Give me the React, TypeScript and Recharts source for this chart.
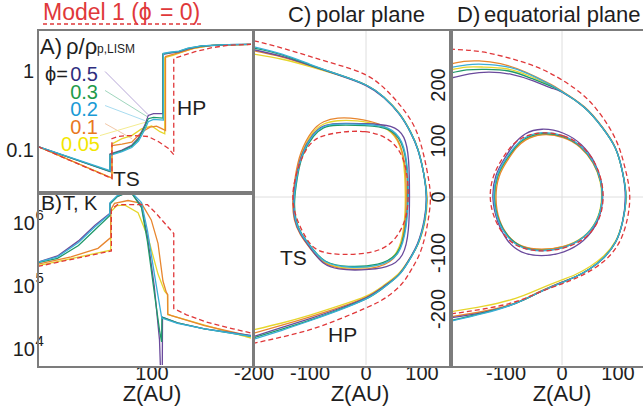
import { LineChart, Line, XAxis, YAxis, ReferenceLine } from "recharts";

type Pt = [number, number];

const FONT = '"Liberation Sans", Arial, sans-serif';
const TEXT = "#1e1e1e";
const FRAME = "#7c7c7c";
const GRID = "#dedede";
const RED = "#e0383a";

// phi = 0.5, 0.3, 0.2, 0.1, 0.05
const PHI_LABELS = ["0.5", "0.3", "0.2", "0.1", "0.05"];
const LINE_COLORS = ["#6a4a9c", "#1f9a6a", "#3aaed8", "#e8862e", "#e6d62c"];
const LABEL_COLORS = ["#2e2d7e", "#1e9a4a", "#1a9ad6", "#e8781e", "#f2e600"];
const LEADER_COLORS = ["#b8a8d8", "#9fd6bd", "#a8dcf0", "#f2c8a8", "#f4ec90"];
const DRAW_ORDER = [4, 3, 0, 1, 2];

// A) density along the upwind axis, (Z AU, rho / rho_p,LISM)
const rhoA05: Pt[] = [[24, 0.109], [72, 0.0525], [72, 0.088], [80, 0.098], [86.5, 0.113], [91, 0.14], [95.3, 0.205], [97.5, 0.27], [101, 0.285], [107.3, 0.285], [107.3, 1.6], [112, 1.66], [118, 1.72], [124, 1.88], [133, 2.03], [150, 2.12], [166, 2.14]];
const rhoA03: Pt[] = [[24, 0.109], [72, 0.053], [72, 0.086], [80, 0.096], [86.5, 0.11], [91, 0.135], [95.3, 0.195], [97.5, 0.245], [101, 0.255], [107.3, 0.25], [107.3, 1.62], [112, 1.68], [118, 1.74], [124, 1.9], [133, 2.04], [150, 2.12], [166, 2.14]];
const rhoA02: Pt[] = [[24, 0.109], [72, 0.054], [72, 0.084], [80, 0.094], [86.5, 0.106], [91, 0.128], [95.3, 0.18], [97.5, 0.225], [101, 0.24], [107.6, 0.235], [107.6, 1.65], [112, 1.7], [118, 1.76], [124, 1.92], [133, 2.05], [150, 2.12], [166, 2.14]];
const rhoA01: Pt[] = [[24, 0.109], [73.3, 0.0435], [73.3, 0.112], [80, 0.117], [86.5, 0.124], [93, 0.165], [98.7, 0.192], [103, 0.198], [106.5, 0.184], [109, 0.174], [109, 1.5], [114, 1.6], [120, 1.72], [128, 1.92], [140, 2.08], [166, 2.14]];
const rhoA005: Pt[] = [[24, 0.109], [73.3, 0.0435], [73.3, 0.118], [80, 0.137], [86.5, 0.15], [93, 0.182], [99.8, 0.198], [105.3, 0.168], [108.5, 0.158], [108.5, 1.45], [114, 1.55], [120, 1.7], [128, 1.9], [140, 2.08], [166, 2.14]];
const rhoA0: Pt[] = [[24, 0.109], [73.3, 0.0428], [73.3, 0.137], [77.3, 0.146], [83.3, 0.15], [91, 0.149], [97.5, 0.146], [104.2, 0.126], [111, 0.103], [114.5, 0.086], [114.5, 1.42], [120, 1.53], [128.7, 1.73], [140, 1.94], [151, 2.09], [166, 2.14]];

// leader lines from the phi labels to the curves, (Z, rho) start and end
const leaderStart: Pt[] = [[68.7, 0.97], [68.7, 0.558], [68.7, 0.36], [68.7, 0.213], [65.3, 0.15]];
const leaderEnd: Pt[] = [[97.3, 0.277], [96.7, 0.261], [95.3, 0.232], [86.7, 0.137], [97.3, 0.226]];

// B) temperature along the upwind axis, (Z AU, T K)
const tB05: Pt[] = [[24, 2.4e5], [37, 3.0e5], [51, 5.2e5], [62, 9.2e5], [71.8, 1.42e6], [72, 2.05e6], [77, 2.65e6], [82, 2.95e6], [87, 2.85e6], [93, 1.85e6], [97, 6e5], [101.5, 1e5], [105, 1.4e4], [106.2, 2000], [106.8, 2000], [107, 3.2e4], [117, 2.6e4], [135, 2.1e4], [166, 1.65e4]];
const tB03: Pt[] = [[24, 2.35e5], [37, 2.75e5], [51, 4.4e5], [62, 7.8e5], [71.8, 1.3e6], [72, 2.0e6], [77, 2.65e6], [82, 2.95e6], [87, 2.85e6], [93, 1.75e6], [97, 5e5], [101.5, 8e4], [105, 2e4], [106.4, 1.3e4], [106.6, 3.2e4], [117, 2.6e4], [135, 2.1e4], [166, 1.6e4]];
const tB02: Pt[] = [[24, 2.4e5], [37, 2.9e5], [51, 4.9e5], [62, 8.7e5], [71.8, 1.38e6], [72, 2.1e6], [77, 2.75e6], [82, 3.0e6], [87, 2.95e6], [93, 2.1e6], [97, 7.5e5], [101.5, 1.6e5], [104, 7e4], [106.5, 3.1e4], [117, 2.55e4], [135, 2.1e4], [166, 1.6e4]];
const tB01: Pt[] = [[24, 2.23e5], [46, 2.9e5], [64, 3.96e5], [71.8, 5.7e5], [72.5, 5.8e5], [72.5, 1.62e6], [75, 2.05e6], [84, 2.27e6], [93, 2.05e6], [99.5, 1.12e6], [104, 4.75e5], [107.3, 1.2e5], [109.5, 8e4], [110.5, 7.3e4], [110.5, 3.6e4], [113, 3.4e4], [135, 2.35e4], [166, 1.6e4]];
const tB005: Pt[] = [[24, 2.1e5], [72.5, 3.7e5], [72.5, 1.5e6], [76.5, 1.88e6], [82, 1.92e6], [90.7, 1.45e6], [97.3, 6e5], [104, 1.55e5], [108.4, 8.3e4], [110.3, 7.3e4], [110.5, 3.5e4], [113, 3.4e4], [135, 2.4e4], [166, 1.5e4]];
const tB0: Pt[] = [[24, 2.05e5], [72.9, 3.6e5], [72.9, 1.65e6], [77, 1.95e6], [97, 1.95e6], [103, 1.4e6], [114.5, 6.8e5], [114.5, 4.4e4], [123, 3.5e4], [136, 2.7e4], [154, 2.1e4], [166, 1.8e4]];

// C) polar plane, (Z AU, Y AU)
const hpC05: Pt[] = [[-200, 263], [-150, 251], [-100, 235], [-50, 218], [0, 199], [32, 177], [60, 147], [80, 114], [93, 83], [103, 42], [107.5, 0], [104, -40], [92, -83], [75, -115], [58, -139], [30, -161], [0, -180], [-50, -200], [-100, -217], [-150, -233], [-200, -249]];
const hpC03: Pt[] = [[-200, 266], [-150, 254], [-100, 236], [-50, 219], [0, 200], [32, 178], [60, 148], [80, 115], [93, 84], [103, 42], [108, 0], [105, -40], [93, -83], [76, -115], [58, -140], [30, -163], [0, -182], [-50, -202], [-100, -220], [-150, -236], [-200, -251]];
const hpC02: Pt[] = [[-200, 268], [-150, 255], [-100, 237], [-50, 219], [0, 200], [32, 178], [60, 148], [80, 115], [93, 84], [103, 42], [108, 0], [105, -40], [93, -83], [76, -115], [58, -140], [30, -163], [0, -182], [-50, -203], [-100, -221], [-150, -238], [-200, -254]];
const hpC01: Pt[] = [[-200, 261], [-150, 250], [-100, 235], [-50, 219], [0, 200], [32, 178], [60, 148], [80, 115], [93, 84], [103, 42], [108.5, 0], [105, -40], [93, -83], [76, -114], [58, -139], [30, -161], [0, -179], [-50, -198], [-100, -214], [-150, -229], [-200, -243]];
const hpC005: Pt[] = [[-200, 255], [-150, 246], [-100, 233], [-50, 218], [0, 200], [32, 178], [60, 149], [80, 116], [93, 85], [103, 43], [109, 0], [106, -40], [94, -82], [76, -113], [58, -137], [30, -159], [0, -177], [-50, -195], [-100, -211], [-150, -225], [-200, -237]];
const hpC0: Pt[] = [[-200, 279], [-150, 266], [-100, 251], [-50, 236], [0, 218], [35, 192], [64, 160], [88, 122], [103, 75], [112, 30], [115, 0], [112, -35], [100, -90], [82, -128], [64, -155], [35, -180], [0, -198], [-50, -219], [-100, -237], [-150, -250], [-200, -261]];

const tsC05: Pt[] = [[-58, 132], [1, 131], [48, 129], [70, 110], [77, 70], [78, 0], [77, -60], [68, -108], [40, -127], [-10, -131], [-50, -130], [-78, -120], [-95, -97], [-119, -65], [-128, -41], [-131, -11], [-125, 36], [-116, 78], [-95, 114], [-77, 128]];
const tsC03: Pt[] = [[-58, 129], [1, 128], [42, 124], [65, 100], [74, 54], [75, 0], [72, -53], [60, -104], [25, -122], [-34, -126], [-76, -117], [-94, -94], [-117, -65], [-126, -41], [-129, -11], [-123, 36], [-114, 78], [-93, 112], [-76, 125]];
const tsC02: Pt[] = [[-58, 131], [1, 130], [43, 126], [66, 102], [75, 54], [76, 0], [73, -53], [61, -106], [25, -124], [-34, -127], [-76, -118], [-94, -95], [-118, -65], [-127, -41], [-130, -11], [-124, 36], [-115, 78], [-94, 114], [-76, 127]];
const tsC01: Pt[] = [[-52, 142], [-17, 141], [25, 132], [55, 112], [70, 70], [73, 0], [70, -53], [60, -106], [25, -128], [-34, -131], [-76, -121], [-96, -97], [-120, -65], [-129, -41], [-132, -11], [-127, 36], [-118, 80], [-97, 120], [-76, 136]];
const tsC005: Pt[] = [[-52, 137], [-17, 137], [25, 130], [52, 112], [68, 76], [71, 0], [69, -53], [58, -104], [25, -124], [-34, -129], [-76, -120], [-95, -97], [-119, -65], [-128, -41], [-131, -11], [-125, 36], [-116, 80], [-96, 117], [-76, 132]];
const tsC0: Pt[] = [[-64, 114], [1, 121], [49, 102], [70, 65], [76, 20], [75, -20], [69, -47], [49, -83], [13, -101], [-46, -104], [-88, -98], [-106, -77], [-124, -41], [-133, -5], [-127, 36], [-112, 78], [-94, 104]];

// D) equatorial plane, (Z AU, Y AU)
const hpD05: Pt[] = [[-200, 212], [-165, 220], [-130, 223], [-90, 219], [-50, 207], [-20, 195], [0, 187], [40, 160], [72, 124], [95, 88], [108, 45], [113, 0], [108, -45], [96, -80], [75, -108], [50, -128], [25, -142], [0, -152], [-40, -170], [-83, -190], [-140, -206], [-200, -216]];
const hpD03: Pt[] = [[-200, 221], [-170, 227], [-135, 228], [-95, 225], [-55, 212], [-20, 198], [0, 188], [40, 160], [72, 124], [95, 88], [108, 45], [114, 0], [108, -45], [96, -80], [75, -108], [50, -128], [25, -142], [0, -153], [-40, -170], [-83, -190], [-140, -207], [-200, -221]];
const hpD02: Pt[] = [[-200, 231], [-170, 236], [-140, 237], [-100, 233], [-60, 220], [-20, 200], [0, 188], [40, 160], [72, 124], [95, 88], [108, 45], [114, 0], [108, -45], [96, -80], [75, -108], [50, -128], [25, -142], [0, -153], [-40, -170], [-83, -190], [-140, -208], [-200, -222]];
const hpD01: Pt[] = [[-200, 237], [-175, 242], [-148, 243], [-110, 238], [-65, 223], [-20, 201], [0, 189], [40, 161], [72, 125], [95, 89], [108, 45], [114, 0], [108, -45], [96, -80], [75, -108], [50, -128], [25, -142], [0, -152], [-40, -169], [-83, -189], [-140, -204], [-200, -214]];
const hpD005: Pt[] = [[-200, 227], [-170, 232], [-140, 232], [-100, 229], [-60, 217], [-20, 199], [0, 188], [40, 160], [72, 124], [95, 88], [108, 45], [114.5, 0], [108, -44], [96, -78], [75, -105], [50, -124], [25, -138], [0, -148], [-40, -164], [-83, -181], [-140, -195], [-200, -205]];
const hpD0: Pt[] = [[-200, 264], [-142, 259], [-83, 245], [-40, 230], [0, 209], [40, 180], [72, 143], [98, 98], [113, 50], [121, 0], [114, -50], [100, -85], [78, -112], [50, -132], [25, -145], [0, -155], [-40, -170], [-83, -187], [-140, -200], [-200, -209]];

const tsD05: Pt[] = [[-37, 124], [4, 116], [36, 95], [59, 64], [72, 27], [74, -8], [65, -46], [40, -80], [4, -100], [-37, -107], [-75, -100], [-98, -80], [-116, -46], [-126, -2], [-120, 40], [-102, 70], [-86, 95], [-68, 114]];
const tsD03: Pt[] = [[-37, 116], [4, 110], [34, 92], [58, 62], [71, 27], [73, -8], [64, -44], [40, -74], [4, -92], [-37, -97], [-73, -91], [-97, -72], [-114, -44], [-123, -2], [-117, 39], [-99, 68], [-84, 89], [-70, 104]];
const tsD02: Pt[] = [[-37, 118], [4, 111], [34, 93], [58, 63], [71, 27], [73, -8], [64, -44], [40, -74], [4, -92], [-37, -98], [-73, -92], [-97, -74], [-115, -44], [-124, -2], [-118, 39], [-100, 69], [-85, 90], [-70, 106]];
const tsD01: Pt[] = [[-37, 114], [4, 108], [33, 91], [57, 62], [71, 27], [73, -8], [64, -45], [40, -74], [4, -90], [-37, -95], [-73, -90], [-96, -72], [-113, -44], [-120, -2], [-114, 39], [-97, 66], [-82, 88], [-68, 102]];
const tsD005: Pt[] = [[-37, 115], [4, 109], [34, 92], [57, 62], [70, 27], [72, -8], [63, -44], [40, -73], [4, -90], [-37, -96], [-73, -90], [-97, -72], [-115, -44], [-122, -2], [-116, 39], [-98, 67], [-83, 89], [-69, 103]];
const tsD0: Pt[] = [[-37, 117], [4, 111], [35, 94], [59, 64], [72, 28], [75, -8], [66, -46], [42, -76], [4, -93], [-37, -98], [-75, -92], [-100, -74], [-120, -44], [-131, -2], [-124, 39], [-106, 70], [-90, 93], [-70, 108]];

const LEFT_Z_TICKS = [100];
const RHO_TICKS = [0.1, 1];
const TEMP_TICKS = [1e4, 1e5, 1e6];
const C_Z_TICKS = [-200, -100, 0, 100];
const D_Z_TICKS = [-100, 0, 100];
const PLANE_Y_TICKS = [-200, -100, 0, 100, 200];

const toRows = (pts: Pt[]) => pts.map(([z, v]) => ({ z, v }));

function curveLines(prefix: string, sets: Pt[][], dashed: Pt[], type: any) {
  const out = DRAW_ORDER.map((i) => (
    <Line
      key={`${prefix}-${i}`}
      data={toRows(sets[i])}
      dataKey="v"
      type={type}
      stroke={LINE_COLORS[i]}
      strokeWidth={1.3}
      dot={false}
      activeDot={false}
      isAnimationActive={false}
    />
  ));
  out.push(
    <Line
      key={`${prefix}-dash`}
      data={toRows(dashed)}
      dataKey="v"
      type={type}
      stroke={RED}
      strokeWidth={1.3}
      strokeDasharray="5 3"
      dot={false}
      activeDot={false}
      isAnimationActive={false}
    />
  );
  return out;
}

function PowTick(props: any) {
  const { x, y, payload } = props;
  const exp = Math.round(Math.log10(payload.value));
  return (
    <g fontFamily={FONT} fill={TEXT}>
      <text x={x - 3} y={y + 7} textAnchor="end" fontSize={20}>10</text>
      <text x={x - 2.5} y={y - 3} textAnchor="start" fontSize={15}>{exp}</text>
    </g>
  );
}

function RotTick(props: any) {
  const { x, y, payload } = props;
  return (
    <text
      transform={`translate(${x},${y}) rotate(-90)`}
      textAnchor="middle"
      fontSize={20}
      fill={TEXT}
      fontFamily={FONT}
    >
      {payload.value}
    </text>
  );
}

const tickStyle = { fontSize: 20, fill: TEXT, fontFamily: FONT };

function Frame({ x, y, w, h }: { x: number; y: number; w: number; h: number }) {
  return (
    <div
      style={{
        position: "absolute",
        left: x - 1,
        top: y - 1,
        width: w,
        height: h,
        border: `2px solid ${FRAME}`,
        boxSizing: "content-box",
        pointerEvents: "none",
      }}
    />
  );
}

function PlaneChart({ left, width, marginLeft, yAxisWidth, ticks, hp, hpDash, ts, tsDash, name }: any) {
  return (
    <div style={{ position: "absolute", left, top: 0 }}>
      <LineChart width={width} height={412} margin={{ top: 29, right: 0, bottom: 0, left: marginLeft }}>
        <XAxis
          type="number"
          dataKey="z"
          domain={[-200, 150]}
          ticks={ticks}
          interval={0}
          allowDataOverflow
          height={47}
          tick={tickStyle}
          tickSize={0}
          tickMargin={1}
          axisLine={false}
          tickLine={false}
        />
        {yAxisWidth ? (
          <YAxis
            type="number"
            domain={[-300, 300]}
            ticks={PLANE_Y_TICKS}
            interval={0}
            allowDataOverflow
            width={yAxisWidth}
            tick={<RotTick />}
            tickSize={0}
            tickMargin={5}
            axisLine={false}
            tickLine={false}
          />
        ) : (
          <YAxis type="number" domain={[-300, 300]} allowDataOverflow hide />
        )}
        <ReferenceLine x={0} stroke={GRID} strokeWidth={1} />
        <ReferenceLine y={0} stroke={GRID} strokeWidth={1} />
        {curveLines(`${name}-hp`, hp, hpDash, "natural")}
        {curveLines(`${name}-ts`, ts, tsDash, "basisClosed")}
      </LineChart>
    </div>
  );
}

export default function App() {
  return (
    <div
      style={{
        position: "absolute",
        left: 0,
        top: 0,
        width: 643,
        height: 412,
        overflow: "hidden",
        background: "#ffffff",
        fontFamily: FONT,
      }}
    >
      {/* A: density */}
      <div style={{ position: "absolute", left: 0, top: 0 }}>
        <LineChart width={253} height={192} margin={{ top: 30, right: 2, bottom: 0, left: 0 }}>
          <XAxis type="number" dataKey="z" domain={[24, 166]} allowDataOverflow hide />
          <YAxis
            type="number"
            scale="log"
            domain={[0.029, 3.25]}
            ticks={RHO_TICKS}
            interval={0}
            allowDataOverflow
            width={38}
            tick={tickStyle}
            tickSize={0}
            tickMargin={4}
            axisLine={false}
            tickLine={false}
            tickFormatter={(v: number) => String(v)}
          />
          {leaderStart.map((s, i) => (
            <ReferenceLine
              key={`lead-${i}`}
              segment={[
                { x: s[0], y: s[1] },
                { x: leaderEnd[i][0], y: leaderEnd[i][1] },
              ]}
              stroke={LEADER_COLORS[i]}
              strokeWidth={1}
            />
          ))}
          {curveLines("rho", [rhoA05, rhoA03, rhoA02, rhoA01, rhoA005], rhoA0, "linear")}
        </LineChart>
      </div>

      {/* B: temperature */}
      <div style={{ position: "absolute", left: 0, top: 192 }}>
        <LineChart width={253} height={220} margin={{ top: 0, right: 2, bottom: 0, left: 0 }}>
          <XAxis
            type="number"
            dataKey="z"
            domain={[24, 166]}
            ticks={LEFT_Z_TICKS}
            interval={0}
            allowDataOverflow
            height={47}
            tick={tickStyle}
            tickSize={0}
            tickMargin={1}
            axisLine={false}
            tickLine={false}
          />
          <YAxis
            type="number"
            scale="log"
            domain={[5600, 3.1e6]}
            ticks={TEMP_TICKS}
            interval={0}
            allowDataOverflow
            width={38}
            tick={<PowTick />}
            tickSize={0}
            tickMargin={0}
            axisLine={false}
            tickLine={false}
          />
          {curveLines("temp", [tB05, tB03, tB02, tB01, tB005], tB0, "linear")}
        </LineChart>
      </div>

      <PlaneChart
        name="c"
        left={220}
        width={230}
        marginLeft={34}
        yAxisWidth={0}
        ticks={C_Z_TICKS}
        hp={[hpC05, hpC03, hpC02, hpC01, hpC005]}
        hpDash={hpC0}
        ts={[tsC05, tsC03, tsC02, tsC01, tsC005]}
        tsDash={tsC0}
      />
      <PlaneChart
        name="d"
        left={400}
        width={246}
        marginLeft={0}
        yAxisWidth={50}
        ticks={D_Z_TICKS}
        hp={[hpD05, hpD03, hpD02, hpD01, hpD005]}
        hpDash={hpD0}
        ts={[tsD05, tsD03, tsD02, tsD01, tsD005]}
        tsDash={tsD0}
      />

      <Frame x={38} y={30} w={213} h={162} />
      <Frame x={38} y={192} w={213} h={173} />
      <Frame x={254} y={30} w={196} h={335} />
      <Frame x={450} y={30} w={196} h={335} />

      <svg
        width={643}
        height={412}
        style={{ position: "absolute", left: 0, top: 0, pointerEvents: "none" }}
        fontFamily={FONT}
      >
        <text x={43} y={20} fontSize={23} fill={RED}>Model 1 (ϕ</text>
        <text x={160} y={20} fontSize={23} fill={RED}>= 0)</text>
        <line x1={43} y1={24} x2={203} y2={24} stroke={RED} strokeWidth={1.3} strokeDasharray="4 3" />

        <text x={40} y={54} fontSize={22} fill={TEXT}>A)</text>
        <text x={66} y={54} fontSize={22} fill={TEXT}>ρ/ρ</text>
        <text x={97} y={53} fontSize={12} fill={TEXT}>p,LISM</text>

        <text x={68} y={81} fontSize={20} fill={TEXT} textAnchor="end">ϕ=</text>
        {PHI_LABELS.map((label, i) => (
          <text
            key={label}
            x={i === 4 ? 100 : 98}
            y={81 + [0, 18, 35, 53, 70][i]}
            fontSize={20}
            fill={LABEL_COLORS[i]}
            textAnchor="end"
          >
            {label}
          </text>
        ))}
        <text x={113} y={186} fontSize={21} fill={TEXT}>TS</text>
        <text x={177} y={115} fontSize={21} fill={TEXT}>HP</text>

        <text x={41} y={210} fontSize={21} fill={TEXT}>B)</text>
        <text x={63} y={210} fontSize={20} fill={TEXT}>T, K</text>

        <text x={288} y={22} fontSize={22} fill={TEXT}>C)</text>
        <text x={316} y={22} fontSize={22} fill={TEXT}>polar plane</text>
        <text x={457} y={22} fontSize={22} fill={TEXT}>D)</text>
        <text x={484} y={22} fontSize={22} fill={TEXT}>equatorial plane</text>

        <text x={280} y={265} fontSize={21} fill={TEXT}>TS</text>
        <text x={328} y={342} fontSize={21} fill={TEXT}>HP</text>

        <text x={152} y={401} fontSize={22} fill={TEXT} textAnchor="middle">Z(AU)</text>
        <text x={360} y={401} fontSize={22} fill={TEXT} textAnchor="middle">Z(AU)</text>
        <text x={562} y={401} fontSize={22} fill={TEXT} textAnchor="middle">Z(AU)</text>
      </svg>
    </div>
  );
}
